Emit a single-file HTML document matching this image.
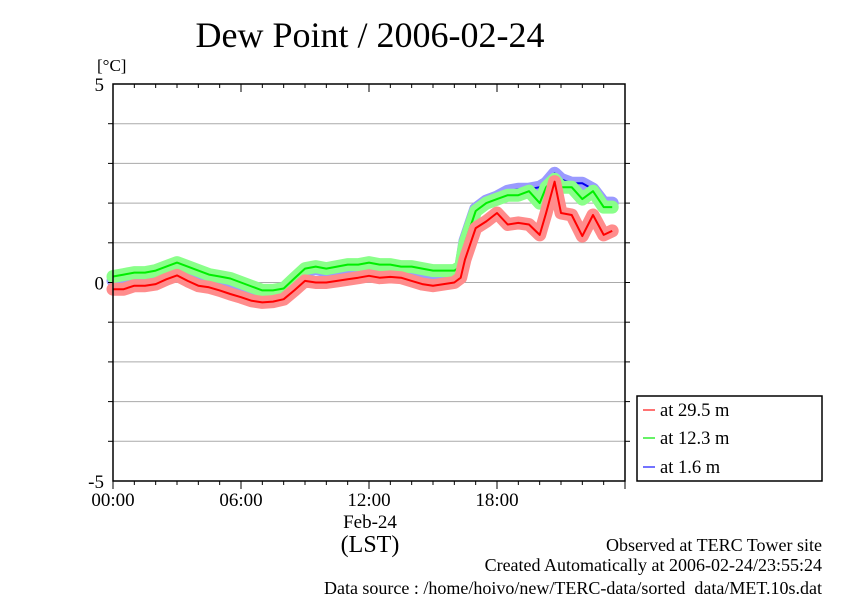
<!DOCTYPE html>
<html><head><meta charset="utf-8"><style>
body{margin:0;background:#fff;}
svg{display:block;font-family:"Liberation Serif",serif;}
</style></head><body>
<svg id="chart" width="842" height="595" viewBox="0 0 842 595">
<text x="370" y="47" font-size="36" text-anchor="middle">Dew Point / 2006-02-24</text>
<text x="97" y="71" font-size="17">[°C]</text>
<g id="grid"></g>
<g id="series"></g>
<rect x="113" y="84" width="512" height="397" fill="none" stroke="#000" stroke-width="1.5"/>
<g id="axes"></g>
<text x="370" y="528" font-size="19" text-anchor="middle">Feb-24</text>
<text x="370" y="552" font-size="24" text-anchor="middle">(LST)</text>
<g>
<rect x="637" y="396" width="185" height="85" fill="#fff" stroke="#000" stroke-width="1.5"/>
<g><line x1="643" y1="410" x2="655" y2="410" stroke="#f44" stroke-width="1.5"/><text x="660" y="416" font-size="18.5">at 29.5 m</text></g>
<g><line x1="643" y1="438" x2="655" y2="438" stroke="#3e3" stroke-width="1.5"/><text x="660" y="444" font-size="18.5">at 12.3 m</text></g>
<g><line x1="643" y1="467" x2="655" y2="467" stroke="#44f" stroke-width="1.5"/><text x="660" y="473" font-size="18.5">at 1.6 m</text></g>
</g>
<text x="822" y="551" font-size="18" text-anchor="end">Observed at TERC Tower site</text>
<text x="822" y="571" font-size="18" text-anchor="end">Created Automatically at 2006-02-24/23:55:24</text>
<text x="822" y="594" font-size="18" text-anchor="end">Data source : /home/hoivo/new/TERC-data/sorted_data/MET.10s.dat</text>
</svg>
<script>
const hours=[0,0.5,1,1.5,2,2.5,3,3.5,4,4.5,5,5.5,6,6.5,7,7.5,8,8.5,9,9.5,10,10.5,11,11.5,12,12.5,13,13.5,14,14.5,15,15.5,16,16.3,16.5,17,17.5,18,18.5,19,19.5,20,20.3,20.7,21,21.5,22,22.5,23,23.4];
const red=[-0.17,-0.17,-0.08,-0.08,-0.04,0.08,0.18,0.04,-0.08,-0.12,-0.2,-0.29,-0.37,-0.46,-0.5,-0.48,-0.42,-0.2,0.04,0,0,0.04,0.08,0.12,0.17,0.12,0.14,0.12,0.04,-0.04,-0.08,-0.04,0,0.12,0.58,1.37,1.54,1.75,1.46,1.5,1.46,1.2,1.75,2.54,1.75,1.7,1.17,1.7,1.2,1.3];
const green=[0.15,0.2,0.25,0.25,0.3,0.4,0.5,0.4,0.3,0.2,0.15,0.1,0,-0.1,-0.2,-0.2,-0.15,0.1,0.35,0.4,0.35,0.4,0.45,0.45,0.5,0.45,0.45,0.4,0.4,0.35,0.3,0.3,0.3,0.4,1.0,1.8,2.0,2.1,2.2,2.2,2.3,2.0,2.4,2.6,2.4,2.4,2.1,2.3,1.9,1.9];
const blue=[0.05,0.1,0.15,0.15,0.2,0.3,0.4,0.3,0.2,0.1,0.05,0,-0.1,-0.2,-0.3,-0.3,-0.25,0.02,0.3,0.35,0.3,0.33,0.38,0.38,0.42,0.38,0.38,0.33,0.33,0.28,0.22,0.22,0.22,0.35,1.05,1.85,2.05,2.15,2.3,2.35,2.35,2.4,2.5,2.75,2.6,2.5,2.5,2.35,2.0,2.0];
const yTicks=[-5,0,5];
const xTickHours=[0,6,12,18];
const xTickLabels=["00:00","06:00","12:00","18:00"];
const NS="http://www.w3.org/2000/svg";
const X=t=>113+t*512/24, Y=v=>282.5-v*39.7;
function mk(tag,attrs,parent){const e=document.createElementNS(NS,tag);for(const k in attrs)e.setAttribute(k,attrs[k]);parent.appendChild(e);return e;}
const grid=document.getElementById('grid'),axes=document.getElementById('axes'),ser=document.getElementById('series');
for(let v=-4;v<=4;v++){
 const l=mk('line',{x1:113,x2:625,y1:Y(v),y2:Y(v),stroke:'#aaa','stroke-width':1},grid);
 
 
 mk('line',{x1:108,x2:113,y1:Y(v),y2:Y(v),stroke:'#000'},axes);
 mk('line',{x1:625,x2:630,y1:Y(v),y2:Y(v),stroke:'#000'},axes);
}
yTicks.forEach(v=>{
 const t=mk('text',{x:104,y:Y(v)+7,'font-size':19,'text-anchor':'end'},axes);
 t.textContent=v;
 
 
});
for(let h=0;h<=24;h++){
 const len=h%6===0?8:4;
 mk('line',{x1:X(h),x2:X(h),y1:481,y2:481+len,stroke:'#000'},axes);
 mk('line',{x1:X(h),x2:X(h),y1:84,y2:84+len,stroke:'#000'},axes);
}
xTickHours.forEach((h,i)=>{
 const t=mk('text',{x:X(h),y:506,'font-size':19,'text-anchor':'middle'},axes);
 t.textContent=xTickLabels[i];
 
 
});
function draw(vals,band,line,name){
 const d=vals.map((v,i)=>(i?'L':'M')+X(hours[i]).toFixed(1)+','+Y(v).toFixed(1)).join(' ');
 const b=mk('path',{d:d,fill:'none',stroke:band,'stroke-width':13,'stroke-linejoin':'round','stroke-linecap':'round'},ser);
 
 
 const l=mk('path',{d:d,fill:'none',stroke:line,'stroke-width':2,'stroke-linejoin':'round'},ser);
 
 
}
draw(blue,'#9a9aff','#0000ee','series-1-6m');
draw(green,'#8aff8a','#00ee00','series-12-3m');
draw(red,'#ff8c8c','#ff0000','series-29-5m');
</script>
</body></html>
